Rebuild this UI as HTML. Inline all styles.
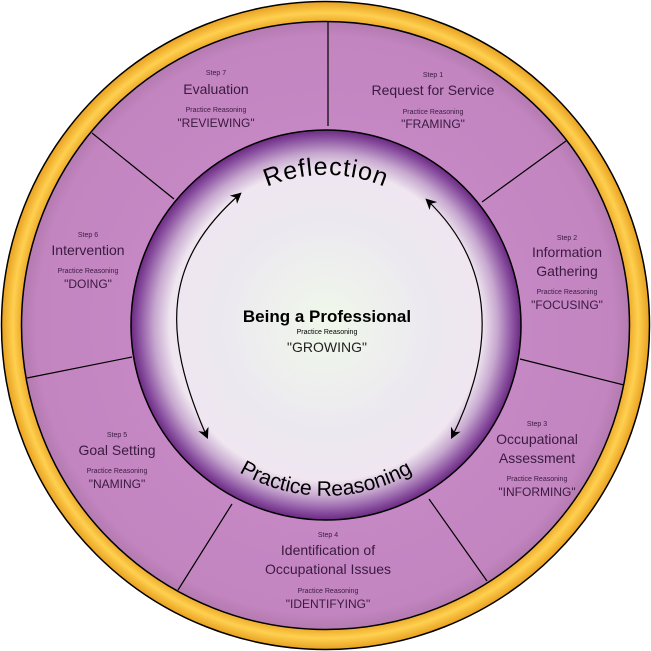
<!DOCTYPE html>
<html><head><style>html,body{margin:0;padding:0;background:#fff}svg{display:block}</style></head><body>
<svg width="651" height="651" viewBox="0 0 651 651" xmlns="http://www.w3.org/2000/svg" font-family="Liberation Sans, sans-serif">
<defs>
<radialGradient id="yel" cx="50%" cy="50%" r="50%">
<stop offset="0.93" stop-color="#e8a020"/><stop offset="0.965" stop-color="#ffd050"/><stop offset="1" stop-color="#e8a020"/>
</radialGradient>
<radialGradient id="pur" cx="50%" cy="50%" r="50%">
<stop offset="0.62" stop-color="#c588c4"/><stop offset="0.95" stop-color="#c385c0"/><stop offset="1" stop-color="#b47ab0"/>
</radialGradient>
<radialGradient id="inner" cx="50%" cy="50%" r="50%">
<stop offset="0" stop-color="#f0f8ea"/><stop offset="0.55" stop-color="#ece8f0"/><stop offset="0.8" stop-color="#efe6f0"/><stop offset="0.88" stop-color="#c7a8cf"/><stop offset="0.96" stop-color="#8a50a0"/><stop offset="1" stop-color="#6a2a80"/>
</radialGradient>
<path id="topArc" d="M 196 250 A 150 150 0 0 1 456 250"/>
<path id="botArc" d="M 176 407 A 171 171 0 0 0 476 407"/>
<marker id="ah" viewBox="0 0 10 10" refX="8" refY="5" markerWidth="11" markerHeight="11" markerUnits="userSpaceOnUse" orient="auto-start-reverse"><path d="M0,0 L10,5 L0,10 L3,5 z" fill="#000"/></marker>
</defs>
<circle cx="325.5" cy="325.5" r="324" fill="url(#yel)" stroke="#000" stroke-width="1.5"/>
<circle cx="325.5" cy="325.5" r="304" fill="url(#pur)" stroke="#000" stroke-width="1.5"/>
<g stroke="#000" stroke-width="1.2">
<line x1="328" y1="22" x2="328" y2="126"/>
<line x1="482" y1="202" x2="566" y2="141"/>
<line x1="520" y1="359" x2="624" y2="385"/>
<line x1="429" y1="499" x2="487" y2="581"/>
<line x1="232" y1="504" x2="178" y2="590"/>
<line x1="132" y1="357" x2="27" y2="378"/>
<line x1="174" y1="199" x2="92" y2="133"/>
</g>
<circle cx="326" cy="325" r="195" fill="url(#inner)" stroke="#000" stroke-width="1.5"/>
<g fill="none" stroke="#000" stroke-width="1.2">
<path d="M 207 437 C 160 330, 165 260, 240 194" marker-end="url(#ah)" marker-start="url(#ah)"/>
<path d="M 427 200 C 490 260, 500 340, 452 437" marker-end="url(#ah)" marker-start="url(#ah)"/>
</g>
<text font-size="25" fill="#000" letter-spacing="1"><textPath href="#topArc" startOffset="50%" text-anchor="middle">Reflection</textPath></text>
<text font-size="21" fill="#000"><textPath href="#botArc" startOffset="50%" text-anchor="middle">Practice Reasoning</textPath></text>
<g text-anchor="middle" fill="#3a1a40">
<text x="327" y="322" font-size="17" font-weight="bold" fill="#000">Being a Professional</text>
<text x="327" y="334" font-size="7" fill="#000">Practice Reasoning</text>
<text x="327" y="352" font-size="14" fill="#222">"GROWING"</text>

<text x="216" y="75" font-size="7">Step 7</text>
<text x="216" y="94" font-size="14">Evaluation</text>
<text x="216" y="112" font-size="7">Practice Reasoning</text>
<text x="216" y="127" font-size="12">"REVIEWING"</text>

<text x="433" y="77" font-size="7">Step 1</text>
<text x="433" y="95" font-size="14">Request for Service</text>
<text x="433" y="114" font-size="7">Practice Reasoning</text>
<text x="433" y="128" font-size="12">"FRAMING"</text>

<text x="567" y="240" font-size="7">Step 2</text>
<text x="567" y="257" font-size="14">Information</text>
<text x="567" y="276" font-size="14">Gathering</text>
<text x="567" y="294" font-size="7">Practice Reasoning</text>
<text x="567" y="309" font-size="12">"FOCUSING"</text>

<text x="537" y="426" font-size="7">Step 3</text>
<text x="537" y="444" font-size="14">Occupational</text>
<text x="537" y="463" font-size="14">Assessment</text>
<text x="537" y="481" font-size="7">Practice Reasoning</text>
<text x="537" y="496" font-size="12">"INFORMING"</text>

<text x="328" y="537" font-size="7">Step 4</text>
<text x="328" y="555" font-size="14">Identification of</text>
<text x="328" y="574" font-size="14">Occupational Issues</text>
<text x="328" y="593" font-size="7">Practice Reasoning</text>
<text x="328" y="608" font-size="12">"IDENTIFYING"</text>

<text x="117" y="437" font-size="7">Step 5</text>
<text x="117" y="455" font-size="14">Goal Setting</text>
<text x="117" y="473" font-size="7">Practice Reasoning</text>
<text x="117" y="488" font-size="12">"NAMING"</text>

<text x="88" y="237" font-size="7">Step 6</text>
<text x="88" y="255" font-size="14">Intervention</text>
<text x="88" y="273" font-size="7">Practice Reasoning</text>
<text x="88" y="288" font-size="12">"DOING"</text>
</g>
</svg>
</body></html>
